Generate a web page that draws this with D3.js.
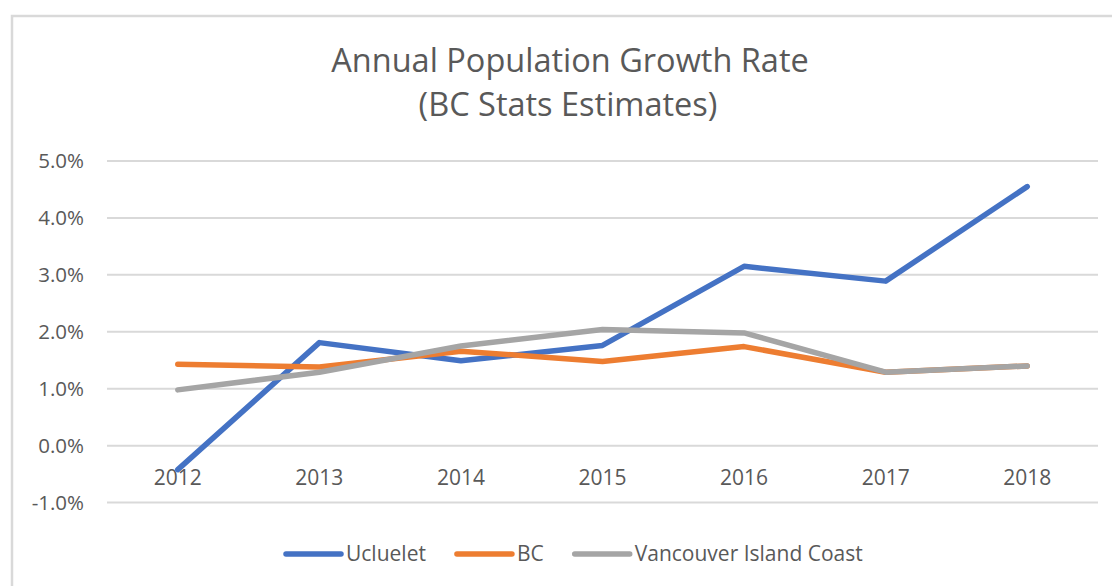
<!DOCTYPE html>
<html>
<head>
<meta charset="UTF-8">
<title>Annual Population Growth Rate</title>
<script src="https://d3js.org/d3.v7.min.js"></script>
<style>
  body { margin: 0; background: #fff; }
  text { font-family: "Open Sans", sans-serif; fill: #595959; }
  .grid line { stroke: #d9d9d9; stroke-width: 2; }
  .serie { fill: none; stroke-width: 5.5; stroke-linecap: round; stroke-linejoin: round; }
</style>
</head>
<body>
<div id="graphe"></div>
<script>
// valeurs (en %)
var annees = ["2012", "2013", "2014", "2015", "2016", "2017", "2018"];
var ucluelet = [-0.42, 1.81, 1.49, 1.76, 3.15, 2.89, 4.55];
var bc = [1.43, 1.38, 1.66, 1.48, 1.74, 1.29, 1.40];
var vic = [0.98, 1.29, 1.75, 2.04, 1.98, 1.29, 1.40];
var graduations = [-1, 0, 1, 2, 3, 4, 5];

var series = [
  { name: "Ucluelet", color: "#4472C4", values: ucluelet },
  { name: "BC", color: "#ED7D31", values: bc },
  { name: "Vancouver Island Coast", color: "#A5A5A5", values: vic }
];

var width = 1112, height = 586;
var margin = { top: 161, right: 14, bottom: 83.4, left: 107 };

var svg = d3.select("#graphe").append("svg")
    .attr("width", width)
    .attr("height", height);

// cadre du graphique
svg.append("rect")
    .attr("x", 12).attr("y", 16)
    .attr("width", 1200).attr("height", 800)
    .attr("fill", "#fff")
    .attr("stroke", "#d9d9d9")
    .attr("stroke-width", 2.5);

var x = d3.scaleBand()
    .domain(annees)
    .range([margin.left, width - margin.right]);

var y = d3.scaleLinear()
    .domain([-1, 5])
    .range([height - margin.bottom, margin.top]);

// titre
svg.append("text")
    .attr("x", 570).attr("y", 72)
    .attr("text-anchor", "middle")
    .style("font-size", "32.5px")
    .text("Annual Population Growth Rate");
svg.append("text")
    .attr("x", 568).attr("y", 116)
    .attr("text-anchor", "middle")
    .style("font-size", "32.5px")
    .text("(BC Stats Estimates)");

// grille horizontale
svg.append("g")
    .attr("class", "grid")
    .selectAll("line")
    .data(graduations)
    .enter().append("line")
    .attr("x1", margin.left)
    .attr("x2", width - margin.right)
    .attr("y1", function(d) { return y(d); })
    .attr("y2", function(d) { return y(d); });

// axe des y
var axeY = svg.append("g")
    .attr("transform", "translate(" + 84 + ",0)")
    .call(d3.axisLeft(y).tickValues(graduations).tickSize(0).tickPadding(0)
      .tickFormat(function(d) { return d.toFixed(1) + "%"; }));
axeY.select(".domain").remove();
axeY.selectAll("text")
    .style("font-size", "20.5px")
    .style("font-family", "'Open Sans', sans-serif")
    .attr("fill", "#595959");

// axe des x (au niveau de 0%)
var axeX = svg.append("g")
    .attr("transform", "translate(0," + y(0) + ")")
    .call(d3.axisBottom(x).tickSize(0).tickPadding(24));
axeX.select(".domain").remove();
axeX.selectAll("text")
    .style("font-size", "21px")
    .style("font-family", "'Open Sans', sans-serif")
    .attr("fill", "#595959");

// courbes
var ligne = d3.line()
    .x(function(d, i) { return x(annees[i]) + x.bandwidth() / 2; })
    .y(function(d) { return y(d); });

svg.append("g").selectAll(".serie")
    .data(series)
    .enter().append("path")
    .attr("class", "serie")
    .attr("stroke", function(d) { return d.color; })
    .attr("d", function(d) { return ligne(d.values); });

// légende
var legende = svg.append("g").attr("transform", "translate(0,554)");
var posX = 286;
series.forEach(function(s) {
  legende.append("line")
    .attr("x1", posX).attr("x2", posX + 55)
    .attr("stroke", s.color)
    .attr("stroke-width", 5.5)
    .attr("stroke-linecap", "round");
  var t = legende.append("text")
    .attr("x", posX + 60)
    .attr("dy", "0.35em")
    .style("font-size", "21px")
    .text(s.name);
  posX += 60 + t.node().getComputedTextLength() + 31;
});
</script>
</body>
</html>
